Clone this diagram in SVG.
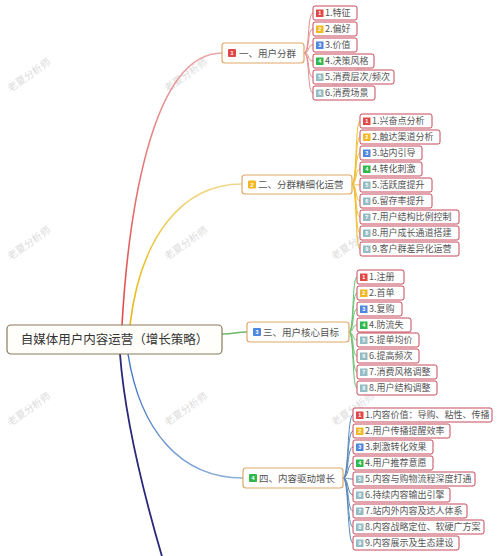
<svg xmlns="http://www.w3.org/2000/svg" width="500" height="556" viewBox="0 0 500 556">
<defs>
<style>
text{font-family:"Noto Sans CJK SC","Noto Sans",sans-serif;}
.wm{font-size:10px;fill:#dcdcdc;}
.root{fill:#fffefa;stroke:#8a7a5a;stroke-width:1.2;}
.roott{font-size:12.5px;fill:#333;text-anchor:middle;}
.br{fill:#fff;stroke:#e0a868;stroke-width:1.2;}
.brt{font-size:9.5px;fill:#555;}
.lf{fill:#fff;stroke:#c8485a;stroke-width:1;}
.lft{font-size:9px;fill:#555;}
.bd{font-size:5.5px;fill:#fff;text-anchor:middle;font-family:"Liberation Sans",sans-serif;font-weight:bold;}
.c1{fill:#e04848;}.c2{fill:#f2b824;}.c3{fill:#4f86e0;}.c4{fill:#2fb84e;}.c5{fill:#93bcc4;}
.k1{stroke:#e48c8c;stroke-width:1;fill:none;}
.k2{stroke:#f0c030;stroke-width:1;fill:none;}
.k3{stroke:#6cc070;stroke-width:1;fill:none;}
.k4{stroke:#5a88b8;stroke-width:1;fill:none;}
</style>
<linearGradient id="gr" gradientUnits="userSpaceOnUse" x1="122" y1="325" x2="222" y2="53"><stop offset="0" stop-color="#e04848"/><stop offset="1" stop-color="#e8a8a8"/></linearGradient>
<linearGradient id="gy" gradientUnits="userSpaceOnUse" x1="130" y1="325" x2="242" y2="184"><stop offset="0" stop-color="#e8b810"/><stop offset="1" stop-color="#f0d890"/></linearGradient>
<linearGradient id="gb" gradientUnits="userSpaceOnUse" x1="128" y1="354" x2="243" y2="478"><stop offset="0" stop-color="#3a70c0"/><stop offset="1" stop-color="#90b0d8"/></linearGradient>
</defs>
<rect width="500" height="556" fill="#fff"/>
<g id="watermarks">
<text class="wm" transform="translate(31,78) rotate(-35)" text-anchor="middle">老夏分析师</text>
<text class="wm" transform="translate(188,78) rotate(-35)" text-anchor="middle">老夏分析师</text>
<text class="wm" transform="translate(355,78) rotate(-35)" text-anchor="middle">老夏分析师</text>
<text class="wm" transform="translate(31,246) rotate(-35)" text-anchor="middle">老夏分析师</text>
<text class="wm" transform="translate(188,246) rotate(-35)" text-anchor="middle">老夏分析师</text>
<text class="wm" transform="translate(355,246) rotate(-35)" text-anchor="middle">老夏分析师</text>
<text class="wm" transform="translate(31,412) rotate(-35)" text-anchor="middle">老夏分析师</text>
<text class="wm" transform="translate(188,412) rotate(-35)" text-anchor="middle">老夏分析师</text>
<text class="wm" transform="translate(355,412) rotate(-35)" text-anchor="middle">老夏分析师</text>
</g>
<g id="connectors">
<path d="M122,325 C128,220 150,53 222,53" stroke="url(#gr)" stroke-width="1.6" fill="none"/>
<path d="M130,325 C140,240 180,184 242,184" stroke="url(#gy)" stroke-width="1.6" fill="none"/>
<path d="M222,334 C235,334 235,332 247,332" stroke="#6cb86c" stroke-width="1.4" fill="none"/>
<path d="M128,354 C140,430 180,478 243,478" stroke="url(#gb)" stroke-width="1.4" fill="none"/>
<path d="M120,354 C125,420 145,500 166,570" stroke="#2a2878" stroke-width="1.8" fill="none"/>
<path class="k1" d="M304,53 C310,53 307,13 313,13"/>
<path class="k1" d="M304,53 C310,53 307,29 313,29"/>
<path class="k1" d="M304,53 C310,53 307,45 313,45"/>
<path class="k1" d="M304,53 C310,53 307,61 313,61"/>
<path class="k1" d="M304,53 C310,53 307,77 313,77"/>
<path class="k1" d="M304,53 C310,53 307,93 313,93"/>
<path class="k2" d="M352,184 C357,184 355,121 360,121"/>
<path class="k2" d="M352,184 C357,184 355,137 360,137"/>
<path class="k2" d="M352,184 C357,184 355,153 360,153"/>
<path class="k2" d="M352,184 C357,184 355,169 360,169"/>
<path class="k2" d="M352,184 C357,184 355,185 360,185"/>
<path class="k2" d="M352,184 C357,184 355,201 360,201"/>
<path class="k2" d="M352,184 C357,184 355,217 360,217"/>
<path class="k2" d="M352,184 C357,184 355,233 360,233"/>
<path class="k2" d="M352,184 C357,184 355,249 360,249"/>
<path class="k3" d="M349,332 C354,332 352,277 357,277"/>
<path class="k3" d="M349,332 C354,332 352,293 357,293"/>
<path class="k3" d="M349,332 C354,332 352,309 357,309"/>
<path class="k3" d="M349,332 C354,332 352,325 357,325"/>
<path class="k3" d="M349,332 C354,332 352,340 357,340"/>
<path class="k3" d="M349,332 C354,332 352,356 357,356"/>
<path class="k3" d="M349,332 C354,332 352,372 357,372"/>
<path class="k3" d="M349,332 C354,332 352,388 357,388"/>
<path class="k4" d="M343,478 C349,478 347,415 353,415"/>
<path class="k4" d="M343,478 C349,478 347,431 353,431"/>
<path class="k4" d="M343,478 C349,478 347,447 353,447"/>
<path class="k4" d="M343,478 C349,478 347,463 353,463"/>
<path class="k4" d="M343,478 C349,478 347,479 353,479"/>
<path class="k4" d="M343,478 C349,478 347,495 353,495"/>
<path class="k4" d="M343,478 C349,478 347,511 353,511"/>
<path class="k4" d="M343,478 C349,478 347,527 353,527"/>
<path class="k4" d="M343,478 C349,478 347,543 353,543"/>
</g>
<g id="root"><rect class="root" x="7" y="325" width="215" height="29" rx="4"/><text class="roott" x="114.5" y="344">自媒体用户内容运营（增长策略）</text></g>
<g id="b1"><rect class="br" x="222" y="43" width="82" height="20" rx="3"/><rect class="c1" x="228" y="49" width="8" height="8" rx="1"/><text class="bd" x="232" y="55">1</text><text class="brt" x="239" y="56.5">一、用户分群</text></g>
<g id="b2"><rect class="br" x="242" y="175" width="110" height="19" rx="3"/><rect class="c2" x="248" y="180.5" width="8" height="8" rx="1"/><text class="bd" x="252" y="186.5">2</text><text class="brt" x="258" y="188">二、分群精细化运营</text></g>
<g id="b3"><rect class="br" x="247" y="322" width="102" height="20" rx="3"/><rect class="c3" x="253" y="328" width="8" height="8" rx="1"/><text class="bd" x="257" y="334">3</text><text class="brt" x="263" y="335.5">三、用户核心目标</text></g>
<g id="b4"><rect class="br" x="243" y="468" width="100" height="20" rx="3"/><rect class="c4" x="249" y="474" width="8" height="8" rx="1"/><text class="bd" x="253" y="480">4</text><text class="brt" x="259" y="481.5">四、内容驱动增长</text></g>
<g id="b1-1"><rect class="lf" x="313" y="6" width="44" height="14" rx="2"/><rect class="c1" x="316" y="9.5" width="7.5" height="7.5"/><text class="bd" x="319.75" y="15">1</text><text class="lft" x="325" y="16.3">1.特征</text></g>
<g id="b1-2"><rect class="lf" x="313" y="22" width="44" height="14" rx="2"/><rect class="c2" x="316" y="25.5" width="7.5" height="7.5"/><text class="bd" x="319.75" y="31">2</text><text class="lft" x="325" y="32.3">2.偏好</text></g>
<g id="b1-3"><rect class="lf" x="313" y="38" width="44" height="14" rx="2"/><rect class="c3" x="316" y="41.5" width="7.5" height="7.5"/><text class="bd" x="319.75" y="47">3</text><text class="lft" x="325" y="48.3">3.价值</text></g>
<g id="b1-4"><rect class="lf" x="313" y="54" width="61" height="14" rx="2"/><rect class="c4" x="316" y="57.5" width="7.5" height="7.5"/><text class="bd" x="319.75" y="63">4</text><text class="lft" x="325" y="64.3">4.决策风格</text></g>
<g id="b1-5"><rect class="lf" x="313" y="70" width="81" height="14" rx="2"/><rect class="c5" x="316" y="73.5" width="7.5" height="7.5"/><text class="bd" x="319.75" y="79">5</text><text class="lft" x="325" y="80.3">5.消费层次/频次</text></g>
<g id="b1-6"><rect class="lf" x="313" y="86" width="62" height="14" rx="2"/><rect class="c5" x="316" y="89.5" width="7.5" height="7.5"/><text class="bd" x="319.75" y="95">6</text><text class="lft" x="325" y="96.3">6.消费场景</text></g>
<g id="b2-1"><rect class="lf" x="360" y="114" width="72" height="14" rx="2"/><rect class="c1" x="363" y="117.5" width="7.5" height="7.5"/><text class="bd" x="366.75" y="123">1</text><text class="lft" x="372" y="124.3">1.兴奋点分析</text></g>
<g id="b2-2"><rect class="lf" x="360" y="130" width="80" height="14" rx="2"/><rect class="c2" x="363" y="133.5" width="7.5" height="7.5"/><text class="bd" x="366.75" y="139">2</text><text class="lft" x="372" y="140.3">2.触达渠道分析</text></g>
<g id="b2-3"><rect class="lf" x="360" y="146" width="62" height="14" rx="2"/><rect class="c3" x="363" y="149.5" width="7.5" height="7.5"/><text class="bd" x="366.75" y="155">3</text><text class="lft" x="372" y="156.3">3.站内引导</text></g>
<g id="b2-4"><rect class="lf" x="360" y="162" width="62" height="14" rx="2"/><rect class="c4" x="363" y="165.5" width="7.5" height="7.5"/><text class="bd" x="366.75" y="171">4</text><text class="lft" x="372" y="172.3">4.转化刺激</text></g>
<g id="b2-5"><rect class="lf" x="360" y="178" width="72" height="14" rx="2"/><rect class="c5" x="363" y="181.5" width="7.5" height="7.5"/><text class="bd" x="366.75" y="187">5</text><text class="lft" x="372" y="188.3">5.活跃度提升</text></g>
<g id="b2-6"><rect class="lf" x="360" y="194" width="72" height="14" rx="2"/><rect class="c5" x="363" y="197.5" width="7.5" height="7.5"/><text class="bd" x="366.75" y="203">6</text><text class="lft" x="372" y="204.3">6.留存率提升</text></g>
<g id="b2-7"><rect class="lf" x="360" y="210" width="99" height="14" rx="2"/><rect class="c5" x="363" y="213.5" width="7.5" height="7.5"/><text class="bd" x="366.75" y="219">7</text><text class="lft" x="372" y="220.3">7.用户结构比例控制</text></g>
<g id="b2-8"><rect class="lf" x="360" y="226" width="99" height="14" rx="2"/><rect class="c5" x="363" y="229.5" width="7.5" height="7.5"/><text class="bd" x="366.75" y="235">8</text><text class="lft" x="372" y="236.3">8.用户成长通道搭建</text></g>
<g id="b2-9"><rect class="lf" x="360" y="242" width="99" height="14" rx="2"/><rect class="c5" x="363" y="245.5" width="7.5" height="7.5"/><text class="bd" x="366.75" y="251">9</text><text class="lft" x="372" y="252.3">9.客户群差异化运营</text></g>
<g id="b3-1"><rect class="lf" x="357" y="270" width="47" height="14" rx="2"/><rect class="c1" x="360" y="273.5" width="7.5" height="7.5"/><text class="bd" x="363.75" y="279">1</text><text class="lft" x="369" y="280.3">1.注册</text></g>
<g id="b3-2"><rect class="lf" x="357" y="286" width="47" height="14" rx="2"/><rect class="c2" x="360" y="289.5" width="7.5" height="7.5"/><text class="bd" x="363.75" y="295">2</text><text class="lft" x="369" y="296.3">2.首单</text></g>
<g id="b3-3"><rect class="lf" x="357" y="302" width="45" height="14" rx="2"/><rect class="c3" x="360" y="305.5" width="7.5" height="7.5"/><text class="bd" x="363.75" y="311">3</text><text class="lft" x="369" y="312.3">3.复购</text></g>
<g id="b3-4"><rect class="lf" x="357" y="318" width="54" height="14" rx="2"/><rect class="c4" x="360" y="321.5" width="7.5" height="7.5"/><text class="bd" x="363.75" y="327">4</text><text class="lft" x="369" y="328.3">4.防流失</text></g>
<g id="b3-5"><rect class="lf" x="357" y="333" width="62" height="14" rx="2"/><rect class="c5" x="360" y="336.5" width="7.5" height="7.5"/><text class="bd" x="363.75" y="342">5</text><text class="lft" x="369" y="343.3">5.提单均价</text></g>
<g id="b3-6"><rect class="lf" x="357" y="349" width="62" height="14" rx="2"/><rect class="c5" x="360" y="352.5" width="7.5" height="7.5"/><text class="bd" x="363.75" y="358">6</text><text class="lft" x="369" y="359.3">6.提高频次</text></g>
<g id="b3-7"><rect class="lf" x="357" y="365" width="80" height="14" rx="2"/><rect class="c5" x="360" y="368.5" width="7.5" height="7.5"/><text class="bd" x="363.75" y="374">7</text><text class="lft" x="369" y="375.3">7.消费风格调整</text></g>
<g id="b3-8"><rect class="lf" x="357" y="381" width="80" height="14" rx="2"/><rect class="c5" x="360" y="384.5" width="7.5" height="7.5"/><text class="bd" x="363.75" y="390">8</text><text class="lft" x="369" y="391.3">8.用户结构调整</text></g>
<g id="b4-1"><rect class="lf" x="353" y="408" width="139" height="14" rx="2"/><rect class="c1" x="356" y="411.5" width="7.5" height="7.5"/><text class="bd" x="359.75" y="417">1</text><text class="lft" x="365" y="418.3">1.内容价值：导购、粘性、传播</text></g>
<g id="b4-2"><rect class="lf" x="353" y="424" width="97" height="14" rx="2"/><rect class="c2" x="356" y="427.5" width="7.5" height="7.5"/><text class="bd" x="359.75" y="433">2</text><text class="lft" x="365" y="434.3">2.用户传播提醒效率</text></g>
<g id="b4-3"><rect class="lf" x="353" y="440" width="80" height="14" rx="2"/><rect class="c3" x="356" y="443.5" width="7.5" height="7.5"/><text class="bd" x="359.75" y="449">3</text><text class="lft" x="365" y="450.3">3.刺激转化效果</text></g>
<g id="b4-4"><rect class="lf" x="353" y="456" width="80" height="14" rx="2"/><rect class="c4" x="356" y="459.5" width="7.5" height="7.5"/><text class="bd" x="359.75" y="465">4</text><text class="lft" x="365" y="466.3">4.用户推荐意愿</text></g>
<g id="b4-5"><rect class="lf" x="353" y="472" width="122" height="14" rx="2"/><rect class="c5" x="356" y="475.5" width="7.5" height="7.5"/><text class="bd" x="359.75" y="481">5</text><text class="lft" x="365" y="482.3">5.内容与购物流程深度打通</text></g>
<g id="b4-6"><rect class="lf" x="353" y="488" width="97" height="14" rx="2"/><rect class="c5" x="356" y="491.5" width="7.5" height="7.5"/><text class="bd" x="359.75" y="497">6</text><text class="lft" x="365" y="498.3">6.持续内容输出引擎</text></g>
<g id="b4-7"><rect class="lf" x="353" y="504" width="114" height="14" rx="2"/><rect class="c5" x="356" y="507.5" width="7.5" height="7.5"/><text class="bd" x="359.75" y="513">7</text><text class="lft" x="365" y="514.3">7.站内外内容及达人体系</text></g>
<g id="b4-8"><rect class="lf" x="353" y="520" width="131" height="14" rx="2"/><rect class="c5" x="356" y="523.5" width="7.5" height="7.5"/><text class="bd" x="359.75" y="529">8</text><text class="lft" x="365" y="530.3">8.内容战略定位、软硬广方案</text></g>
<g id="b4-9"><rect class="lf" x="353" y="536" width="106" height="14" rx="2"/><rect class="c5" x="356" y="539.5" width="7.5" height="7.5"/><text class="bd" x="359.75" y="545">9</text><text class="lft" x="365" y="546.3">9.内容展示及生态建设</text></g>
</svg>
